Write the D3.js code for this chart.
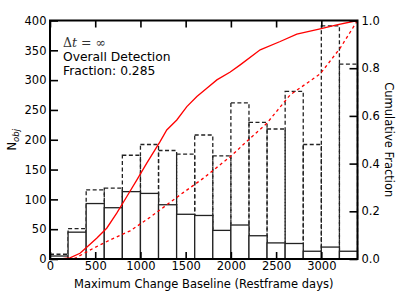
<!DOCTYPE html>
<html>
<head>
<meta charset="utf-8">
<script src="https://cdn.jsdelivr.net/npm/d3@7"></script>
<style>
  body { margin: 0; background: #fff; }
  text { font-family: "DejaVu Sans", sans-serif; fill: #000; }
</style>
</head>
<body>
<div id="chart"></div>
<script>
// histogram bins (restframe days), bin width 200
var binEdges = [0, 200, 400, 600, 800, 1000, 1200, 1400, 1600, 1800, 2000, 2200, 2400, 2600, 2800, 3000, 3200, 3400];
// detected objects (solid)
var detected = [5, 45, 93, 86, 113, 110, 91, 75, 73, 48, 57, 39, 27, 26, 13, 20, 13];
// all objects (dashed)
var total = [8, 51, 116, 119, 174, 192, 182, 176, 208, 173, 262, 229, 218, 281, 192, 391, 327];

// cumulative fractions
var cumDetDays = [0, 110, 221, 332, 406, 516, 627, 738, 848, 959, 1070, 1217, 1291, 1402, 1513, 1624, 1734, 1845, 1993, 2103, 2324, 2545, 2729, 2987, 3171, 3400];
var cumDetFrac = [0, 0, 0.005, 0.024, 0.049, 0.087, 0.129, 0.192, 0.261, 0.331, 0.402, 0.492, 0.541, 0.583, 0.639, 0.681, 0.716, 0.751, 0.784, 0.814, 0.877, 0.912, 0.943, 0.965, 0.982, 1.0];
var cumAllDays = [0, 150, 277, 480, 664, 886, 1107, 1439, 1697, 1993, 2213, 2397, 2655, 2987, 3208, 3400];
var cumAllFrac = [0, 0, 0.003, 0.045, 0.080, 0.118, 0.175, 0.269, 0.339, 0.429, 0.506, 0.569, 0.688, 0.776, 0.884, 1.0];

var xTicks = [0, 500, 1000, 1500, 2000, 2500, 3000];
var yTicks = [0, 50, 100, 150, 200, 250, 300, 350, 400];
var fracTicks = [0, 0.2, 0.4, 0.6, 0.8, 1.0];
var infoLines = ["Overall Detection", "Fraction: 0.285"];

var W = 399, H = 299;
var L = 50, R = 357.5, T = 20.5, B = 259;

var svg = d3.select("#chart").append("svg")
    .attr("width", W)
    .attr("height", H);

var x = d3.scaleLinear().domain([0, 3400]).range([L, R]);
var y = d3.scaleLinear().domain([0, 400]).range([B, T]);
var y2 = d3.scaleLinear().domain([0, 1]).range([B, T]);

var plot = svg.append("g");

function bars(data, cls) {
    return plot.selectAll("." + cls)
        .data(data)
      .enter().append("rect")
        .attr("class", cls)
        .attr("x", function(d, i) { return x(binEdges[i]); })
        .attr("y", function(d) { return y(d); })
        .attr("width", function(d, i) { return x(binEdges[i + 1]) - x(binEdges[i]); })
        .attr("height", function(d) { return B - y(d); });
}

bars(total, "tot")
    .style("fill", "none")
    .style("stroke", "#222")
    .style("stroke-width", 1.3)
    .style("stroke-dasharray", "4,2.5");

bars(detected, "det")
    .style("fill", "#fff")
    .style("stroke", "#222")
    .style("stroke-width", 1.3);

var line = d3.line()
    .x(function(d) { return x(d[0]); })
    .y(function(d) { return y2(d[1]); });

plot.append("path")
    .datum(d3.zip(cumDetDays, cumDetFrac))
    .attr("d", line)
    .style("fill", "none")
    .style("stroke", "#f00")
    .style("stroke-width", 1.3);

plot.append("path")
    .datum(d3.zip(cumAllDays, cumAllFrac))
    .attr("d", line)
    .style("fill", "none")
    .style("stroke", "#f00")
    .style("stroke-width", 1.3)
    .style("stroke-dasharray", "3,3");

// axes, ticks point inward
var fs = "11.5px";
svg.append("g").attr("transform", "translate(0," + B + ")")
    .call(d3.axisBottom(x).tickValues(xTicks).tickSizeInner(-7).tickSizeOuter(0).tickPadding(3).tickFormat(d3.format("d")))
    .call(function(g) { g.select(".domain").remove(); g.selectAll("text").style("font-size", fs); });
svg.append("g").attr("transform", "translate(0," + T + ")")
    .call(d3.axisTop(x).tickValues(xTicks).tickSizeInner(-7).tickSizeOuter(0).tickFormat(""))
    .call(function(g) { g.select(".domain").remove(); });
svg.append("g").attr("transform", "translate(" + L + ",0)")
    .call(d3.axisLeft(y).tickValues(yTicks).tickSizeInner(-8).tickSizeOuter(0).tickPadding(3.5))
    .call(function(g) { g.select(".domain").remove(); g.selectAll("text").style("font-size", fs); });
svg.append("g").attr("transform", "translate(" + R + ",0)")
    .call(d3.axisRight(y2).tickValues(fracTicks).tickSizeInner(-8).tickSizeOuter(0).tickPadding(4).tickFormat(d3.format(".1f")))
    .call(function(g) { g.select(".domain").remove(); g.selectAll("text").style("font-size", fs); });
svg.selectAll(".tick line").style("stroke", "#000").style("stroke-width", 1.6);

svg.append("rect")
    .attr("x", L).attr("y", T)
    .attr("width", R - L).attr("height", B - T)
    .style("fill", "none")
    .style("stroke", "#000")
    .style("stroke-width", 2);

// annotation
var note = svg.append("text").attr("x", 63).attr("y", 47)
    .style("font-family", "DejaVu Serif, serif")
    .style("font-size", "12.5px")
    .style("fill", "#333");
note.append("tspan").text("\u0394");
note.append("tspan").style("font-style", "italic").text("t");
note.append("tspan").text(" = \u221e");

svg.selectAll(".info")
    .data(infoLines)
  .enter().append("text")
    .attr("class", "info")
    .attr("x", 63)
    .attr("y", function(d, i) { return 60.5 + i * 14; })
    .style("font-size", "12.3px")
    .text(function(d) { return d; });

// axis labels
svg.append("text")
    .attr("x", (L + R) / 2).attr("y", 288)
    .attr("text-anchor", "middle")
    .style("font-size", "11.5px")
    .text("Maximum Change Baseline (Restframe days)");

var yl = svg.append("text")
    .attr("transform", "translate(16," + (T + B) / 2 + ") rotate(-90)")
    .attr("text-anchor", "middle")
    .style("font-size", "11.5px");
yl.append("tspan").text("N");
yl.append("tspan").attr("dy", 3).style("font-size", "8.5px").style("font-style", "italic").text("obj");

svg.append("text")
    .attr("transform", "translate(385," + (T + B) / 2 + ") rotate(90)")
    .attr("text-anchor", "middle")
    .style("font-size", "11.5px")
    .text("Cumulative Fraction");
</script>
</body>
</html>
